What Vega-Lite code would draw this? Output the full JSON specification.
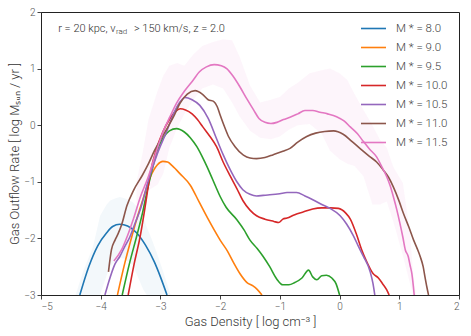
{
  "$schema": "https://vega.github.io/schema/vega-lite/v6.json",
  "width": 418,
  "height": 283,
  "autosize": "none",
  "padding": {"left": 41, "top": 12, "right": 12, "bottom": 41},
  "background": "white",
  "config": {
    "view": {"stroke": "#222", "strokeWidth": 1},
    "font": "Roboto",
    "axis": {
      "grid": false, "domainColor": "#222", "tickColor": "#444", "tickSize": 4,
      "labelFont": "Roboto", "labelFontSize": 10, "labelColor": "#555", "labelFontWeight": 300,
      "titleFont": "Roboto", "titleFontSize": 13, "titleFontWeight": 300, "titleColor": "#333"
    },
    "legend": {"labelFont": "Roboto", "labelFontSize": 11.5, "labelColor": "#444", "labelFontWeight": 300}
  },
  "datasets": {
    "curves": [
      {"m":"M * = 8.0","x":-4.35,"y":-3.0},{"m":"M * = 8.0","x":-4.2,"y":-2.5},{"m":"M * = 8.0","x":-4.05,"y":-2.13},{"m":"M * = 8.0","x":-3.9,"y":-1.9},{"m":"M * = 8.0","x":-3.8,"y":-1.79},{"m":"M * = 8.0","x":-3.68,"y":-1.75},{"m":"M * = 8.0","x":-3.55,"y":-1.78},{"m":"M * = 8.0","x":-3.4,"y":-1.9},{"m":"M * = 8.0","x":-3.25,"y":-2.12},{"m":"M * = 8.0","x":-3.1,"y":-2.42},{"m":"M * = 8.0","x":-3.0,"y":-2.68},{"m":"M * = 8.0","x":-2.89,"y":-3.0},

      {"m":"M * = 9.0","x":-3.72,"y":-3.0},{"m":"M * = 9.0","x":-3.6,"y":-2.45},{"m":"M * = 9.0","x":-3.48,"y":-1.97},{"m":"M * = 9.0","x":-3.38,"y":-1.6},{"m":"M * = 9.0","x":-3.29,"y":-1.3},{"m":"M * = 9.0","x":-3.17,"y":-0.92},{"m":"M * = 9.0","x":-3.05,"y":-0.7},{"m":"M * = 9.0","x":-2.96,"y":-0.64},{"m":"M * = 9.0","x":-2.88,"y":-0.65},{"m":"M * = 9.0","x":-2.8,"y":-0.72},{"m":"M * = 9.0","x":-2.67,"y":-0.86},{"m":"M * = 9.0","x":-2.5,"y":-1.06},{"m":"M * = 9.0","x":-2.35,"y":-1.36},{"m":"M * = 9.0","x":-2.2,"y":-1.66},{"m":"M * = 9.0","x":-2.1,"y":-1.85},{"m":"M * = 9.0","x":-2.0,"y":-2.03},{"m":"M * = 9.0","x":-1.88,"y":-2.22},{"m":"M * = 9.0","x":-1.78,"y":-2.42},{"m":"M * = 9.0","x":-1.67,"y":-2.62},{"m":"M * = 9.0","x":-1.55,"y":-2.78},{"m":"M * = 9.0","x":-1.45,"y":-2.84},{"m":"M * = 9.0","x":-1.38,"y":-2.9},{"m":"M * = 9.0","x":-1.3,"y":-3.0},

      {"m":"M * = 9.5","x":-3.64,"y":-3.0},{"m":"M * = 9.5","x":-3.52,"y":-2.45},{"m":"M * = 9.5","x":-3.4,"y":-1.97},{"m":"M * = 9.5","x":-3.3,"y":-1.55},{"m":"M * = 9.5","x":-3.23,"y":-1.2},{"m":"M * = 9.5","x":-3.13,"y":-0.75},{"m":"M * = 9.5","x":-3.06,"y":-0.46},{"m":"M * = 9.5","x":-2.95,"y":-0.22},{"m":"M * = 9.5","x":-2.85,"y":-0.1},{"m":"M * = 9.5","x":-2.73,"y":-0.06},{"m":"M * = 9.5","x":-2.6,"y":-0.12},{"m":"M * = 9.5","x":-2.5,"y":-0.22},{"m":"M * = 9.5","x":-2.39,"y":-0.38},{"m":"M * = 9.5","x":-2.28,"y":-0.6},{"m":"M * = 9.5","x":-2.17,"y":-0.85},{"m":"M * = 9.5","x":-2.08,"y":-1.07},{"m":"M * = 9.5","x":-2.0,"y":-1.26},{"m":"M * = 9.5","x":-1.9,"y":-1.45},{"m":"M * = 9.5","x":-1.72,"y":-1.67},{"m":"M * = 9.5","x":-1.6,"y":-1.85},{"m":"M * = 9.5","x":-1.5,"y":-2.03},{"m":"M * = 9.5","x":-1.38,"y":-2.18},{"m":"M * = 9.5","x":-1.28,"y":-2.32},{"m":"M * = 9.5","x":-1.17,"y":-2.5},{"m":"M * = 9.5","x":-1.05,"y":-2.72},{"m":"M * = 9.5","x":-0.95,"y":-2.82},{"m":"M * = 9.5","x":-0.85,"y":-2.82},{"m":"M * = 9.5","x":-0.75,"y":-2.78},{"m":"M * = 9.5","x":-0.63,"y":-2.7},{"m":"M * = 9.5","x":-0.52,"y":-2.56},{"m":"M * = 9.5","x":-0.45,"y":-2.68},{"m":"M * = 9.5","x":-0.38,"y":-2.73},{"m":"M * = 9.5","x":-0.3,"y":-2.66},{"m":"M * = 9.5","x":-0.22,"y":-2.65},{"m":"M * = 9.5","x":-0.13,"y":-2.7},{"m":"M * = 9.5","x":-0.06,"y":-2.8},{"m":"M * = 9.5","x":0.0,"y":-3.0},

      {"m":"M * = 10.0","x":-3.54,"y":-3.0},{"m":"M * = 10.0","x":-3.44,"y":-2.45},{"m":"M * = 10.0","x":-3.34,"y":-1.97},{"m":"M * = 10.0","x":-3.25,"y":-1.4},{"m":"M * = 10.0","x":-3.17,"y":-0.85},{"m":"M * = 10.0","x":-3.06,"y":-0.4},{"m":"M * = 10.0","x":-2.96,"y":-0.12},{"m":"M * = 10.0","x":-2.85,"y":0.1},{"m":"M * = 10.0","x":-2.75,"y":0.24},{"m":"M * = 10.0","x":-2.67,"y":0.29},{"m":"M * = 10.0","x":-2.58,"y":0.27},{"m":"M * = 10.0","x":-2.47,"y":0.2},{"m":"M * = 10.0","x":-2.38,"y":0.1},{"m":"M * = 10.0","x":-2.29,"y":-0.03},{"m":"M * = 10.0","x":-2.17,"y":-0.2},{"m":"M * = 10.0","x":-2.06,"y":-0.38},{"m":"M * = 10.0","x":-1.95,"y":-0.65},{"m":"M * = 10.0","x":-1.83,"y":-0.9},{"m":"M * = 10.0","x":-1.72,"y":-1.12},{"m":"M * = 10.0","x":-1.62,"y":-1.33},{"m":"M * = 10.0","x":-1.5,"y":-1.5},{"m":"M * = 10.0","x":-1.39,"y":-1.6},{"m":"M * = 10.0","x":-1.25,"y":-1.66},{"m":"M * = 10.0","x":-1.1,"y":-1.7},{"m":"M * = 10.0","x":-1.02,"y":-1.72},{"m":"M * = 10.0","x":-0.95,"y":-1.66},{"m":"M * = 10.0","x":-0.88,"y":-1.64},{"m":"M * = 10.0","x":-0.75,"y":-1.58},{"m":"M * = 10.0","x":-0.6,"y":-1.53},{"m":"M * = 10.0","x":-0.45,"y":-1.48},{"m":"M * = 10.0","x":-0.3,"y":-1.46},{"m":"M * = 10.0","x":-0.15,"y":-1.46},{"m":"M * = 10.0","x":-0.02,"y":-1.47},{"m":"M * = 10.0","x":0.1,"y":-1.55},{"m":"M * = 10.0","x":0.18,"y":-1.66},{"m":"M * = 10.0","x":0.29,"y":-1.95},{"m":"M * = 10.0","x":0.37,"y":-2.2},{"m":"M * = 10.0","x":0.45,"y":-2.4},{"m":"M * = 10.0","x":0.56,"y":-2.62},{"m":"M * = 10.0","x":0.65,"y":-2.7},{"m":"M * = 10.0","x":0.72,"y":-2.8},{"m":"M * = 10.0","x":0.79,"y":-2.91},{"m":"M * = 10.0","x":0.83,"y":-3.0},

      {"m":"M * = 10.5","x":-3.93,"y":-3.0},{"m":"M * = 10.5","x":-3.84,"y":-2.68},{"m":"M * = 10.5","x":-3.76,"y":-2.45},{"m":"M * = 10.5","x":-3.68,"y":-2.32},{"m":"M * = 10.5","x":-3.6,"y":-2.15},{"m":"M * = 10.5","x":-3.51,"y":-1.97},{"m":"M * = 10.5","x":-3.42,"y":-1.72},{"m":"M * = 10.5","x":-3.34,"y":-1.5},{"m":"M * = 10.5","x":-3.2,"y":-0.97},{"m":"M * = 10.5","x":-3.05,"y":-0.5},{"m":"M * = 10.5","x":-2.9,"y":-0.12},{"m":"M * = 10.5","x":-2.78,"y":0.2},{"m":"M * = 10.5","x":-2.68,"y":0.4},{"m":"M * = 10.5","x":-2.59,"y":0.49},{"m":"M * = 10.5","x":-2.47,"y":0.45},{"m":"M * = 10.5","x":-2.34,"y":0.35},{"m":"M * = 10.5","x":-2.2,"y":0.12},{"m":"M * = 10.5","x":-2.06,"y":-0.24},{"m":"M * = 10.5","x":-1.95,"y":-0.52},{"m":"M * = 10.5","x":-1.83,"y":-0.79},{"m":"M * = 10.5","x":-1.72,"y":-1.0},{"m":"M * = 10.5","x":-1.62,"y":-1.14},{"m":"M * = 10.5","x":-1.5,"y":-1.22},{"m":"M * = 10.5","x":-1.39,"y":-1.25},{"m":"M * = 10.5","x":-1.28,"y":-1.24},{"m":"M * = 10.5","x":-1.17,"y":-1.23},{"m":"M * = 10.5","x":-1.0,"y":-1.21},{"m":"M * = 10.5","x":-0.88,"y":-1.19},{"m":"M * = 10.5","x":-0.72,"y":-1.19},{"m":"M * = 10.5","x":-0.58,"y":-1.25},{"m":"M * = 10.5","x":-0.44,"y":-1.32},{"m":"M * = 10.5","x":-0.28,"y":-1.41},{"m":"M * = 10.5","x":-0.16,"y":-1.47},{"m":"M * = 10.5","x":0.01,"y":-1.6},{"m":"M * = 10.5","x":0.12,"y":-1.75},{"m":"M * = 10.5","x":0.23,"y":-1.95},{"m":"M * = 10.5","x":0.32,"y":-2.15},{"m":"M * = 10.5","x":0.4,"y":-2.32},{"m":"M * = 10.5","x":0.51,"y":-2.58},{"m":"M * = 10.5","x":0.56,"y":-2.8},{"m":"M * = 10.5","x":0.59,"y":-3.0},

      {"m":"M * = 11.0","x":-3.87,"y":-2.59},{"m":"M * = 11.0","x":-3.82,"y":-2.2},{"m":"M * = 11.0","x":-3.76,"y":-2.03},{"m":"M * = 11.0","x":-3.71,"y":-1.92},{"m":"M * = 11.0","x":-3.65,"y":-1.76},{"m":"M * = 11.0","x":-3.56,"y":-1.42},{"m":"M * = 11.0","x":-3.45,"y":-1.15},{"m":"M * = 11.0","x":-3.3,"y":-0.88},{"m":"M * = 11.0","x":-3.2,"y":-0.68},{"m":"M * = 11.0","x":-3.1,"y":-0.45},{"m":"M * = 11.0","x":-2.9,"y":-0.08},{"m":"M * = 11.0","x":-2.78,"y":0.15},{"m":"M * = 11.0","x":-2.67,"y":0.39},{"m":"M * = 11.0","x":-2.55,"y":0.55},{"m":"M * = 11.0","x":-2.42,"y":0.61},{"m":"M * = 11.0","x":-2.3,"y":0.55},{"m":"M * = 11.0","x":-2.2,"y":0.45},{"m":"M * = 11.0","x":-2.11,"y":0.42},{"m":"M * = 11.0","x":-2.05,"y":0.33},{"m":"M * = 11.0","x":-2.0,"y":0.18},{"m":"M * = 11.0","x":-1.93,"y":-0.02},{"m":"M * = 11.0","x":-1.86,"y":-0.2},{"m":"M * = 11.0","x":-1.75,"y":-0.38},{"m":"M * = 11.0","x":-1.61,"y":-0.53},{"m":"M * = 11.0","x":-1.5,"y":-0.58},{"m":"M * = 11.0","x":-1.39,"y":-0.59},{"m":"M * = 11.0","x":-1.25,"y":-0.57},{"m":"M * = 11.0","x":-1.11,"y":-0.52},{"m":"M * = 11.0","x":-0.95,"y":-0.46},{"m":"M * = 11.0","x":-0.83,"y":-0.41},{"m":"M * = 11.0","x":-0.7,"y":-0.3},{"m":"M * = 11.0","x":-0.55,"y":-0.2},{"m":"M * = 11.0","x":-0.4,"y":-0.14},{"m":"M * = 11.0","x":-0.25,"y":-0.11},{"m":"M * = 11.0","x":-0.1,"y":-0.1},{"m":"M * = 11.0","x":0.06,"y":-0.16},{"m":"M * = 11.0","x":0.2,"y":-0.28},{"m":"M * = 11.0","x":0.34,"y":-0.41},{"m":"M * = 11.0","x":0.5,"y":-0.55},{"m":"M * = 11.0","x":0.62,"y":-0.65},{"m":"M * = 11.0","x":0.73,"y":-0.79},{"m":"M * = 11.0","x":0.82,"y":-0.92},{"m":"M * = 11.0","x":0.9,"y":-1.09},{"m":"M * = 11.0","x":1.0,"y":-1.35},{"m":"M * = 11.0","x":1.07,"y":-1.56},{"m":"M * = 11.0","x":1.16,"y":-1.8},{"m":"M * = 11.0","x":1.24,"y":-2.03},{"m":"M * = 11.0","x":1.3,"y":-2.18},{"m":"M * = 11.0","x":1.35,"y":-2.32},{"m":"M * = 11.0","x":1.4,"y":-2.5},{"m":"M * = 11.0","x":1.43,"y":-2.68},{"m":"M * = 11.0","x":1.46,"y":-2.85},{"m":"M * = 11.0","x":1.49,"y":-3.0},

      {"m":"M * = 11.5","x":-3.78,"y":-2.4},{"m":"M * = 11.5","x":-3.65,"y":-2.2},{"m":"M * = 11.5","x":-3.55,"y":-1.95},{"m":"M * = 11.5","x":-3.45,"y":-1.65},{"m":"M * = 11.5","x":-3.34,"y":-1.28},{"m":"M * = 11.5","x":-3.2,"y":-0.9},{"m":"M * = 11.5","x":-3.08,"y":-0.5},{"m":"M * = 11.5","x":-2.95,"y":-0.1},{"m":"M * = 11.5","x":-2.84,"y":0.15},{"m":"M * = 11.5","x":-2.73,"y":0.39},{"m":"M * = 11.5","x":-2.6,"y":0.6},{"m":"M * = 11.5","x":-2.45,"y":0.8},{"m":"M * = 11.5","x":-2.35,"y":0.94},{"m":"M * = 11.5","x":-2.23,"y":1.03},{"m":"M * = 11.5","x":-2.1,"y":1.07},{"m":"M * = 11.5","x":-1.98,"y":1.05},{"m":"M * = 11.5","x":-1.89,"y":1.0},{"m":"M * = 11.5","x":-1.78,"y":0.86},{"m":"M * = 11.5","x":-1.67,"y":0.68},{"m":"M * = 11.5","x":-1.55,"y":0.46},{"m":"M * = 11.5","x":-1.44,"y":0.27},{"m":"M * = 11.5","x":-1.35,"y":0.12},{"m":"M * = 11.5","x":-1.25,"y":0.05},{"m":"M * = 11.5","x":-1.15,"y":0.03},{"m":"M * = 11.5","x":-1.05,"y":0.05},{"m":"M * = 11.5","x":-0.94,"y":0.1},{"m":"M * = 11.5","x":-0.83,"y":0.14},{"m":"M * = 11.5","x":-0.7,"y":0.2},{"m":"M * = 11.5","x":-0.58,"y":0.26},{"m":"M * = 11.5","x":-0.45,"y":0.26},{"m":"M * = 11.5","x":-0.33,"y":0.23},{"m":"M * = 11.5","x":-0.2,"y":0.2},{"m":"M * = 11.5","x":-0.05,"y":0.15},{"m":"M * = 11.5","x":0.08,"y":0.07},{"m":"M * = 11.5","x":0.18,"y":-0.03},{"m":"M * = 11.5","x":0.3,"y":-0.15},{"m":"M * = 11.5","x":0.4,"y":-0.29},{"m":"M * = 11.5","x":0.5,"y":-0.42},{"m":"M * = 11.5","x":0.62,"y":-0.56},{"m":"M * = 11.5","x":0.71,"y":-0.74},{"m":"M * = 11.5","x":0.79,"y":-0.91},{"m":"M * = 11.5","x":0.85,"y":-1.08},{"m":"M * = 11.5","x":0.9,"y":-1.26},{"m":"M * = 11.5","x":0.96,"y":-1.5},{"m":"M * = 11.5","x":1.01,"y":-1.73},{"m":"M * = 11.5","x":1.06,"y":-1.98},{"m":"M * = 11.5","x":1.1,"y":-2.2},{"m":"M * = 11.5","x":1.15,"y":-2.32},{"m":"M * = 11.5","x":1.18,"y":-2.47},{"m":"M * = 11.5","x":1.21,"y":-2.62},{"m":"M * = 11.5","x":1.25,"y":-3.0}
    ],
    "band8": [
      {"x":-4.42,"lo":-3.5,"hi":-3.0},{"x":-4.3,"lo":-3.5,"hi":-2.6},{"x":-4.13,"lo":-3.5,"hi":-2.15},{"x":-4.01,"lo":-3.0,"hi":-1.6},{"x":-3.9,"lo":-2.65,"hi":-1.4},{"x":-3.84,"lo":-2.5,"hi":-1.33},{"x":-3.75,"lo":-2.38,"hi":-1.29},{"x":-3.68,"lo":-2.34,"hi":-1.27},{"x":-3.6,"lo":-2.36,"hi":-1.29},{"x":-3.46,"lo":-2.48,"hi":-1.36},{"x":-3.35,"lo":-2.75,"hi":-1.5},{"x":-3.29,"lo":-2.9,"hi":-1.62},{"x":-3.23,"lo":-3.0,"hi":-1.8},{"x":-3.15,"lo":-3.5,"hi":-2.0},{"x":-3.06,"lo":-3.5,"hi":-2.26},{"x":-2.95,"lo":-3.5,"hi":-2.6},{"x":-2.84,"lo":-3.5,"hi":-2.97},{"x":-2.8,"lo":-3.5,"hi":-3.1}
    ],
    "band115": [
      {"x":-3.4,"lo":-1.4,"hi":-1.0},{"x":-3.3,"lo":-1.25,"hi":-0.5},{"x":-3.2,"lo":-1.15,"hi":0.1},{"x":-3.05,"lo":-1.05,"hi":0.6},{"x":-2.95,"lo":-0.85,"hi":0.88},{"x":-2.85,"lo":-0.4,"hi":1.05},{"x":-2.72,"lo":-0.05,"hi":1.1},{"x":-2.6,"lo":0.2,"hi":1.05},{"x":-2.45,"lo":0.45,"hi":1.25},{"x":-2.3,"lo":0.65,"hi":1.4},{"x":-2.12,"lo":0.72,"hi":1.47},{"x":-1.95,"lo":0.65,"hi":1.52},{"x":-1.8,"lo":0.4,"hi":1.5},{"x":-1.67,"lo":0.15,"hi":1.2},{"x":-1.5,"lo":-0.1,"hi":0.7},{"x":-1.33,"lo":-0.22,"hi":0.4},{"x":-1.15,"lo":-0.25,"hi":0.45},{"x":-1.0,"lo":-0.2,"hi":0.5},{"x":-0.85,"lo":-0.08,"hi":0.65},{"x":-0.7,"lo":0.0,"hi":0.75},{"x":-0.5,"lo":0.02,"hi":0.92},{"x":-0.3,"lo":-0.15,"hi":0.97},{"x":-0.16,"lo":-0.45,"hi":1.0},{"x":0.0,"lo":-0.6,"hi":0.92},{"x":0.13,"lo":-0.68,"hi":0.8},{"x":0.25,"lo":-0.72,"hi":0.55},{"x":0.4,"lo":-0.9,"hi":0.27},{"x":0.55,"lo":-1.4,"hi":0.0},{"x":0.68,"lo":-1.4,"hi":-0.26},{"x":0.79,"lo":-1.35,"hi":-0.4},{"x":0.9,"lo":-1.7,"hi":-0.74},{"x":1.06,"lo":-2.3,"hi":-1.02},{"x":1.18,"lo":-2.8,"hi":-1.9},{"x":1.23,"lo":-3.0,"hi":-2.6},{"x":1.28,"lo":-3.2,"hi":-3.0}
    ]
  },
  "layer": [
    {
      "data": {"name": "band8"},
      "mark": {"type": "area", "color": "#1f77b4", "opacity": 0.055, "clip": true},
      "encoding": {
        "x": {"field": "x", "type": "quantitative", "scale": {"domain": [-5, 2]}},
        "y": {"field": "hi", "type": "quantitative", "scale": {"domain": [-3, 2]}},
        "y2": {"field": "lo"}
      }
    },
    {
      "data": {"name": "band115"},
      "mark": {"type": "area", "color": "#e377c2", "opacity": 0.07, "clip": true},
      "encoding": {
        "x": {"field": "x", "type": "quantitative"},
        "y": {"field": "hi", "type": "quantitative"},
        "y2": {"field": "lo"}
      }
    },
    {
      "data": {"name": "curves"},
      "mark": {"type": "line", "interpolate": "monotone", "strokeWidth": 1.6, "clip": true},
      "encoding": {
        "x": {"field": "x", "type": "quantitative", "scale": {"domain": [-5, 2]},
          "axis": {"values": [-5, -4, -3, -2, -1, 0, 1, 2], "format": "d", "title": "Gas Density [ log cm⁻³ ]", "titlePadding": 4, "labelPadding": 2}},
        "y": {"field": "y", "type": "quantitative", "scale": {"domain": [-3, 2]},
          "axis": {"values": [-3, -2, -1, 0, 1, 2], "format": "d", "title": "Gas Outflow Rate [ log Mₛᵤₙ / yr ]", "titlePadding": 2, "labelPadding": 2}},
        "color": {
          "field": "m", "type": "nominal",
          "scale": {
            "domain": ["M * = 8.0", "M * = 9.0", "M * = 9.5", "M * = 10.0", "M * = 10.5", "M * = 11.0", "M * = 11.5"],
            "range": ["#1f77b4", "#ff7f0e", "#2ca02c", "#d62728", "#9467bd", "#8c564b", "#e377c2"]
          },
          "legend": {
            "title": null, "orient": "none", "legendX": 319, "legendY": 3,
            "symbolType": "stroke", "symbolSize": 625, "symbolStrokeWidth": 1.6,
            "labelOffset": 9, "rowPadding": -5.7, "padding": 0
          }
        }
      }
    },
    {
      "data": {"values": [{"t": "r =  20 kpc, v"}]},
      "mark": {"type": "text", "align": "right", "baseline": "alphabetic", "fontSize": 11, "fontWeight": 300, "color": "#333"},
      "encoding": {"x": {"datum": -3.752}, "y": {"datum": 1.652}, "text": {"field": "t"}}
    },
    {
      "data": {"values": [{"t": "rad"}]},
      "mark": {"type": "text", "align": "left", "baseline": "alphabetic", "fontSize": 8, "fontWeight": 300, "color": "#333", "dy": 2},
      "encoding": {"x": {"datum": -3.744}, "y": {"datum": 1.652}, "text": {"field": "t"}}
    },
    {
      "data": {"values": [{"t": "> 150 km/s, z = 2.0"}]},
      "mark": {"type": "text", "align": "left", "baseline": "alphabetic", "fontSize": 11, "fontWeight": 300, "color": "#333"},
      "encoding": {"x": {"datum": -3.443}, "y": {"datum": 1.652}, "text": {"field": "t"}}
    }
  ]
}
